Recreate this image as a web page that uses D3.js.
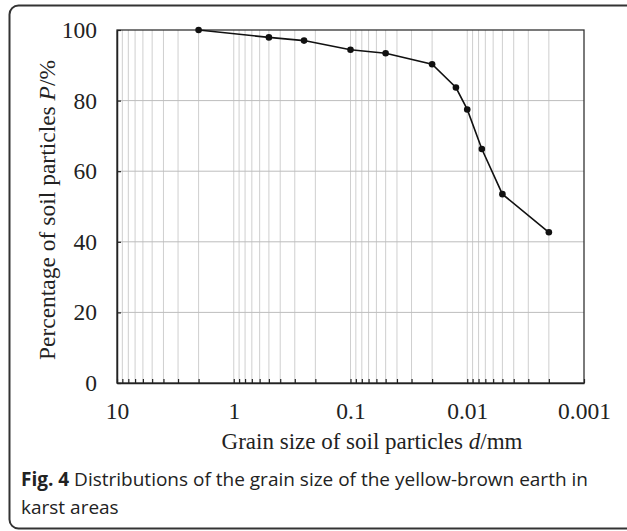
<!DOCTYPE html>
<html>
<head>
<meta charset="utf-8">
<script src="https://cdn.jsdelivr.net/npm/d3@7"></script>
<style>
  body { margin: 0; background: #fff; }
  svg { display: block; }
</style>
</head>
<body>
<svg></svg>
<script>
const size = {w: 627, h: 531};
const plot = {l: 117, r: 584, t: 30, b: 383};
const svg = d3.select('svg');

svg.attr('width', size.w)
    .attr('height', size.h);

// grain size (mm) and percentage of particles finer than it
const grainSize = [2, 0.5, 0.25, 0.1, 0.05, 0.02, 0.0125, 0.01, 0.0075, 0.005, 0.002];
const percentFiner = [100, 97.9, 97.0, 94.4, 93.4, 90.3, 83.7, 77.5, 66.3, 53.5, 42.7];

const xTickLabels = [10, 1, 0.1, 0.01, 0.001];
const yTicks = [0, 20, 40, 60, 80, 100];

const data = grainSize.map((d, i) => ({d: d, p: percentFiner[i]}));

// rounded frame around the figure
svg.append('rect')
    .attr('x', 9.5).attr('y', 5.5)
    .attr('width', 626).attr('height', 523)
    .attr('rx', 9)
    .attr('fill', 'none')
    .attr('stroke', '#333')
    .attr('stroke-width', 2);

let x = d3.scaleLog()
    .domain([10, 0.001])
    .range([plot.l, plot.r]);

let y = d3.scaleLinear()
    .domain([0, 100])
    .range([plot.b, plot.t]);

// minor log positions 1..9 x 10^k
let minorVals = [];
for (let k = 0; k >= -3; k--) {
    for (let m = 1; m <= 9; m++) {
        minorVals.push(m * Math.pow(10, k));
    }
}
minorVals = minorVals.filter(v => v < 10 && v > 0.001);

let gridG = svg.append('g').classed('grid', true);

gridG.selectAll('line.vx')
    .data(minorVals)
    .enter()
    .append('line')
    .attr('class', 'vx')
    .attr('x1', d => x(d)).attr('x2', d => x(d))
    .attr('y1', plot.t).attr('y2', plot.b)
    .attr('stroke', '#cfcfcf')
    .attr('stroke-width', 1);

gridG.selectAll('line.hy')
    .data(yTicks.filter(v => v > 0 && v < 100))
    .enter()
    .append('line')
    .attr('class', 'hy')
    .attr('x1', plot.l).attr('x2', plot.r)
    .attr('y1', d => y(d)).attr('y2', d => y(d))
    .attr('stroke', '#bdbdbd')
    .attr('stroke-width', 1);

// plot box
svg.append('rect')
    .attr('x', plot.l).attr('y', plot.t)
    .attr('width', plot.r - plot.l).attr('height', plot.b - plot.t)
    .attr('fill', 'none')
    .attr('stroke', '#333')
    .attr('stroke-width', 1.3);

// x axis, inward ticks at every log step, labels only on decades
let xAxis = d3.axisBottom(x)
    .tickValues(minorVals.concat([10, 0.001]))
    .tickSizeInner(-4)
    .tickSizeOuter(0)
    .tickPadding(19)
    .tickFormat(d => xTickLabels.includes(d) ? d : '');

let xAxisG = svg.append('g')
    .attr('transform', `translate(0,${plot.b})`)
    .call(xAxis);

let yAxis = d3.axisLeft(y)
    .tickValues(yTicks)
    .tickSizeInner(-4)
    .tickSizeOuter(0)
    .tickPadding(20);

let yAxisG = svg.append('g')
    .attr('transform', `translate(${plot.l},0)`)
    .call(yAxis);

[xAxisG, yAxisG].forEach(g => {
    g.select('.domain').attr('stroke', '#222').attr('stroke-width', 1.5);
    g.selectAll('.tick line').attr('stroke', '#222').attr('stroke-width', 1.2);
    g.selectAll('.tick text')
        .attr('fill', '#222')
        .style('font-family', '"Liberation Serif", "Times New Roman", serif')
        .style('font-size', '23.5px');
});

// the curve
let line = d3.line()
    .x(d => x(d.d))
    .y(d => y(d.p));

svg.append('path')
    .datum(data)
    .attr('d', line)
    .attr('fill', 'none')
    .attr('stroke', '#111')
    .attr('stroke-width', 1.6);

svg.selectAll('circle.pt')
    .data(data)
    .enter()
    .append('circle')
    .attr('class', 'pt')
    .attr('cx', d => x(d.d))
    .attr('cy', d => y(d.p))
    .attr('r', 3.3)
    .attr('fill', '#111');

// axis titles
let xTitle = svg.append('text')
    .attr('x', 372).attr('y', 449)
    .attr('text-anchor', 'middle')
    .style('font-family', '"Liberation Serif", "Times New Roman", serif')
    .style('font-size', '23px')
    .attr('fill', '#222');
xTitle.append('tspan').text('Grain size of soil particles ');
xTitle.append('tspan').style('font-style', 'italic').text('d');
xTitle.append('tspan').text('/mm');

let yTitle = svg.append('text')
    .attr('transform', 'translate(55,210) rotate(-90)')
    .attr('text-anchor', 'middle')
    .style('font-family', '"Liberation Serif", "Times New Roman", serif')
    .style('font-size', '23.5px')
    .attr('fill', '#222');
yTitle.append('tspan').text('Percentage of soil particles ');
yTitle.append('tspan').style('font-style', 'italic').text('P');
yTitle.append('tspan').text('/%');

// caption
let cap = svg.append('text')
    .attr('x', 21).attr('y', 486)
    .style('font-family', '"Open Sans", "Noto Sans", sans-serif')
    .style('font-size', '19px')
    .attr('fill', '#222');
cap.append('tspan').style('font-weight', 'bold').text('Fig. 4');
cap.append('tspan').text(' Distributions of the grain size of the yellow-brown earth in');

svg.append('text')
    .attr('x', 21).attr('y', 514)
    .style('font-family', '"Open Sans", "Noto Sans", sans-serif')
    .style('font-size', '19px')
    .attr('fill', '#222')
    .text('karst areas');
</script>
</body>
</html>
